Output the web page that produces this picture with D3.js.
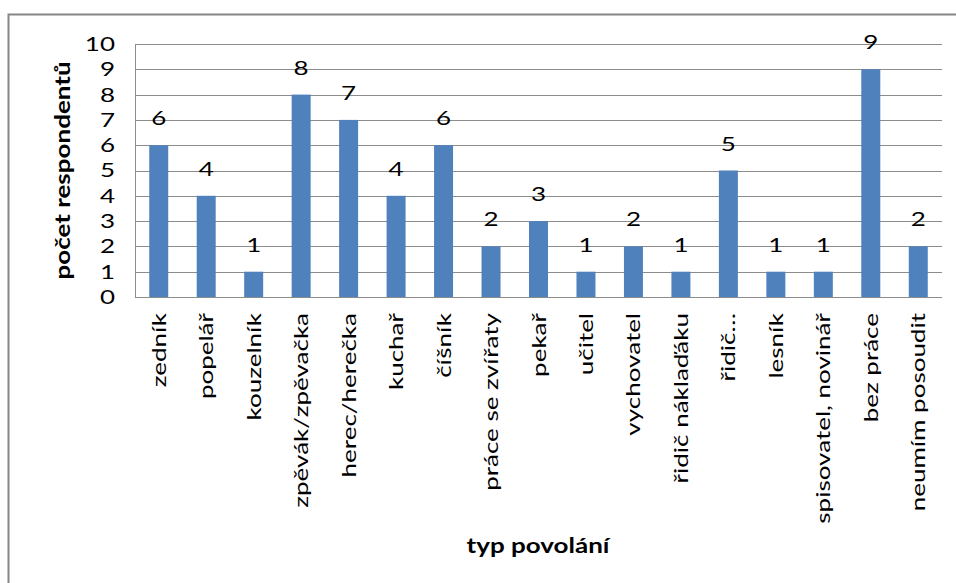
<!DOCTYPE html>
<html>
<head>
<meta charset="utf-8">
<script src="https://cdn.jsdelivr.net/npm/d3@7"></script>
<style>
  body { margin: 0; background: #fff; }
  svg { font-family: Lato, "Liberation Sans", sans-serif; }
</style>
</head>
<body>
<svg id="chart" width="956" height="583"></svg>
<script>
var categories = ["zedník", "popelář", "kouzelník", "zpěvák/zpěvačka", "herec/herečka", "kuchař",
  "číšník", "práce se zvířaty", "pekař", "učitel", "vychovatel", "řidič náklaďáku", "řidič…",
  "lesník", "spisovatel, novinář", "bez práce", "neumím posoudit"];
var values = [6, 4, 1, 8, 7, 4, 6, 2, 3, 1, 2, 1, 5, 1, 1, 9, 2];
var yTicks = [0, 1, 2, 3, 4, 5, 6, 7, 8, 9, 10];

var data = categories.map(function(c, i) { return {name: c, value: values[i]}; });

var svg = d3.select("#chart");
var margin = {top: 44, right: 14, bottom: 286, left: 135};
var width = 956 - margin.left - margin.right;
var height = 583 - margin.top - margin.bottom;
var SX = "scale(1.3,1)"; // the original font runs wider than Lato

// chart frame
svg.append("rect")
  .attr("x", 8.5).attr("y", 14.5)
  .attr("width", 960).attr("height", 600)
  .attr("fill", "none")
  .attr("stroke", "#868686")
  .attr("stroke-width", 2);

var g = svg.append("g").attr("transform", "translate(" + margin.left + "," + margin.top + ")");

var x = d3.scaleBand().domain(categories).range([0, width]).paddingInner(0.6).paddingOuter(0.3);
var y = d3.scaleLinear().domain([0, 10]).range([height, 0]);

// gridlines
g.selectAll(".grid")
  .data(yTicks)
  .enter().append("line")
  .attr("x1", 0).attr("x2", width)
  .attr("y1", function(d) { return Math.round(y(d)) + 0.5; })
  .attr("y2", function(d) { return Math.round(y(d)) + 0.5; })
  .attr("stroke", "#8c8c8c")
  .attr("stroke-width", 1);

g.append("line")
  .attr("x1", 0.5).attr("x2", 0.5)
  .attr("y1", 0).attr("y2", height)
  .attr("stroke", "#8c8c8c");

// bars
g.selectAll(".bar")
  .data(data)
  .enter().append("rect")
  .attr("x", function(d) { return x(d.name); })
  .attr("y", function(d) { return y(d.value); })
  .attr("width", x.bandwidth())
  .attr("height", function(d) { return height - y(d.value); })
  .attr("fill", "#4F81BD");

// value labels
g.selectAll(".val")
  .data(data)
  .enter().append("text")
  .attr("transform", function(d) {
    return "translate(" + (x(d.name) + x.bandwidth() / 2) + "," + (y(d.value) - 20) + ") " + SX;
  })
  .attr("text-anchor", "middle")
  .attr("font-size", 20)
  .attr("fill", "#000")
  .text(function(d) { return d.value; });

// y axis
var yAxis = d3.axisLeft(y).tickValues(yTicks).tickSize(0).tickPadding(0);
g.append("g")
  .call(yAxis)
  .call(function(s) { s.select(".domain").remove(); })
  .selectAll("text")
  .attr("font-size", 20)
  .attr("font-family", "Lato, sans-serif")
  .attr("fill", "#000")
  .attr("x", 0)
  .attr("transform", "translate(-20,0) " + SX);

// x axis labels
var xAxis = d3.axisBottom(x).tickSize(0);
g.append("g")
  .attr("transform", "translate(0," + height + ")")
  .call(xAxis)
  .call(function(s) { s.select(".domain").remove(); })
  .selectAll("text")
  .attr("font-size", 20)
  .attr("font-family", "Lato, sans-serif")
  .attr("fill", "#000")
  .attr("text-anchor", "end")
  .attr("transform", "rotate(-90) translate(-16,0) " + SX)
  .attr("x", 0)
  .attr("y", 0)
  .attr("dy", "0.35em");

// axis titles
svg.append("text")
  .attr("transform", "translate(70," + (margin.top + height / 2) + ") rotate(-90) " + SX)
  .attr("text-anchor", "middle")
  .attr("font-size", 20)
  .attr("font-weight", "bold")
  .text("počet respondentů");

svg.append("text")
  .attr("transform", "translate(538,553) " + SX)
  .attr("text-anchor", "middle")
  .attr("font-size", 20)
  .attr("font-weight", "bold")
  .text("typ povolání");
</script>
</body>
</html>
